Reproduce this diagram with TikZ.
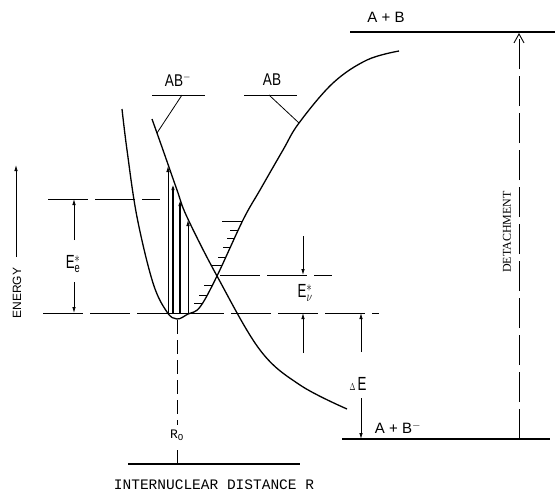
\documentclass[tikz,border=0pt]{standalone}
\usepackage{fontspec}
\setmainfont{Liberation Serif}
\setsansfont{Liberation Sans}
\setmonofont{Liberation Mono}
\usetikzlibrary{arrows.meta}

\begin{document}
\begin{tikzpicture}[x=1pt,y=-1pt,
  curve/.style={line width=1.3pt},
  thinline/.style={line width=0.8pt},
  guide/.style={line width=0.9pt,dash pattern=on 40pt off 7pt},
  lbl/.style={font=\sffamily\fontsize{17}{18}\selectfont,xscale=0.8,inner sep=0pt},
  elbl/.style={font=\sffamily\fontsize{19}{20}\selectfont,xscale=0.7,inner sep=0pt},
  tip/.style={-{Latex[length=6pt,width=3.5pt]}}]
\useasboundingbox (0,0) rectangle (555,493);
% potential curves
\draw[curve] plot[smooth,tension=0.6] coordinates {(122,109) (127,150) (137,217) (153,283) (167,312) (177,319) (188,314) (200,307) (217,276) (243,220) (260,190) (283,150) (299,123) (333,83) (367,60) (399,51)};
\draw[curve] plot[smooth,tension=0.6] coordinates {(152,119) (163,150) (177,190) (187,217) (217,276) (260,350) (300,385) (347,409)};
% vertical transitions
\draw[thinline,tip] (168,313) -- (168,166);
\draw[line width=2.2pt,tip] (173,313) -- (173,184);
\draw[line width=2.2pt,tip] (180,313) -- (180,200);
\draw[thinline,tip] (188,313) -- (188,220);
\draw[thinline] (168,313) -- (188,313);
% vibrational levels
\foreach \y/\x/\l in {221/242/20,230/238/8,238/235/8,247/231/8,257/226/8,265/222/10,285/212/8,295/207/8,303/202/8}
  \draw[thinline] (\x,\y) -- ++(-\l,0);
% energy guides
\draw[guide] (48,199) -- (160,199);
\draw[guide] (43,313) -- (379,313);
\draw[guide] (220,275) -- (332,275);
\node[elbl] (ee) at (73,264) {E$^{*}_{\mathsf{e}}$};
\draw[thinline,tip] (74,240) -- (74,199);
\draw[thinline,tip] (74,282) -- (74,313);
\node[elbl] (ev) at (305,293) {E$^{*}_{\nu}$};
\draw[thinline,tip] (303,236) -- (303,275);
\draw[thinline,tip] (303,353) -- (303,313);
\node[elbl] (de) at (358,384) {{\fontsize{10}{10}\selectfont$\Delta$}\,E};
\draw[thinline,tip] (361,352) -- (361,313);
\draw[thinline,tip] (361,398) -- (361,439);
% asymptotes
\draw[line width=2pt] (350,32) -- (555,32);
\node[font=\sffamily\fontsize{15}{16}\selectfont,inner sep=0pt] (ab) at (386,17) {A + B};
\draw[line width=2pt] (342,439) -- (550,439);
\node[font=\sffamily\fontsize{15}{16}\selectfont,inner sep=0pt] (abm) at (398,428) {A + B$^{-}$};
\draw[line width=0.9pt,dash pattern=on 30pt off 7pt,-{Straight Barb[length=9pt,width=10pt]}] (519,439) -- (519,33);
\node[rotate=90,font=\fontsize{12}{13}\selectfont] (det) at (507,232) {DETACHMENT};
% axes
\draw[thinline,tip] (16,257) -- (16,165);
\node[rotate=90,font=\sffamily\fontsize{12}{13}\selectfont] (en) at (17,293) {ENERGY};
\draw[line width=1.2pt] (128,464) -- (300,464);
\draw[thinline,dash pattern=on 14pt off 6pt] (177,320) -- (177,425);
\draw[thinline] (177,450) -- (177,464);
\node[font=\ttfamily\fontsize{13}{14}\selectfont] (r0) at (177,435) {R\textsubscript{O}};
\node[font=\ttfamily\fontsize{14.5}{15}\selectfont,inner sep=0pt] (dist) at (214,485) {INTERNUCLEAR DISTANCE R};
% curve labels
\node[lbl] (abminus) at (178,80) {AB$^{-}$};
\draw[thinline] (152,95) -- (205,95);
\draw[thinline] (182,95) -- (157,133);
\node[lbl] (abneut) at (272,80) {AB};
\draw[thinline] (244,95) -- (297,95);
\draw[thinline] (269,95) -- (299,123);
\end{tikzpicture}
\end{document}
